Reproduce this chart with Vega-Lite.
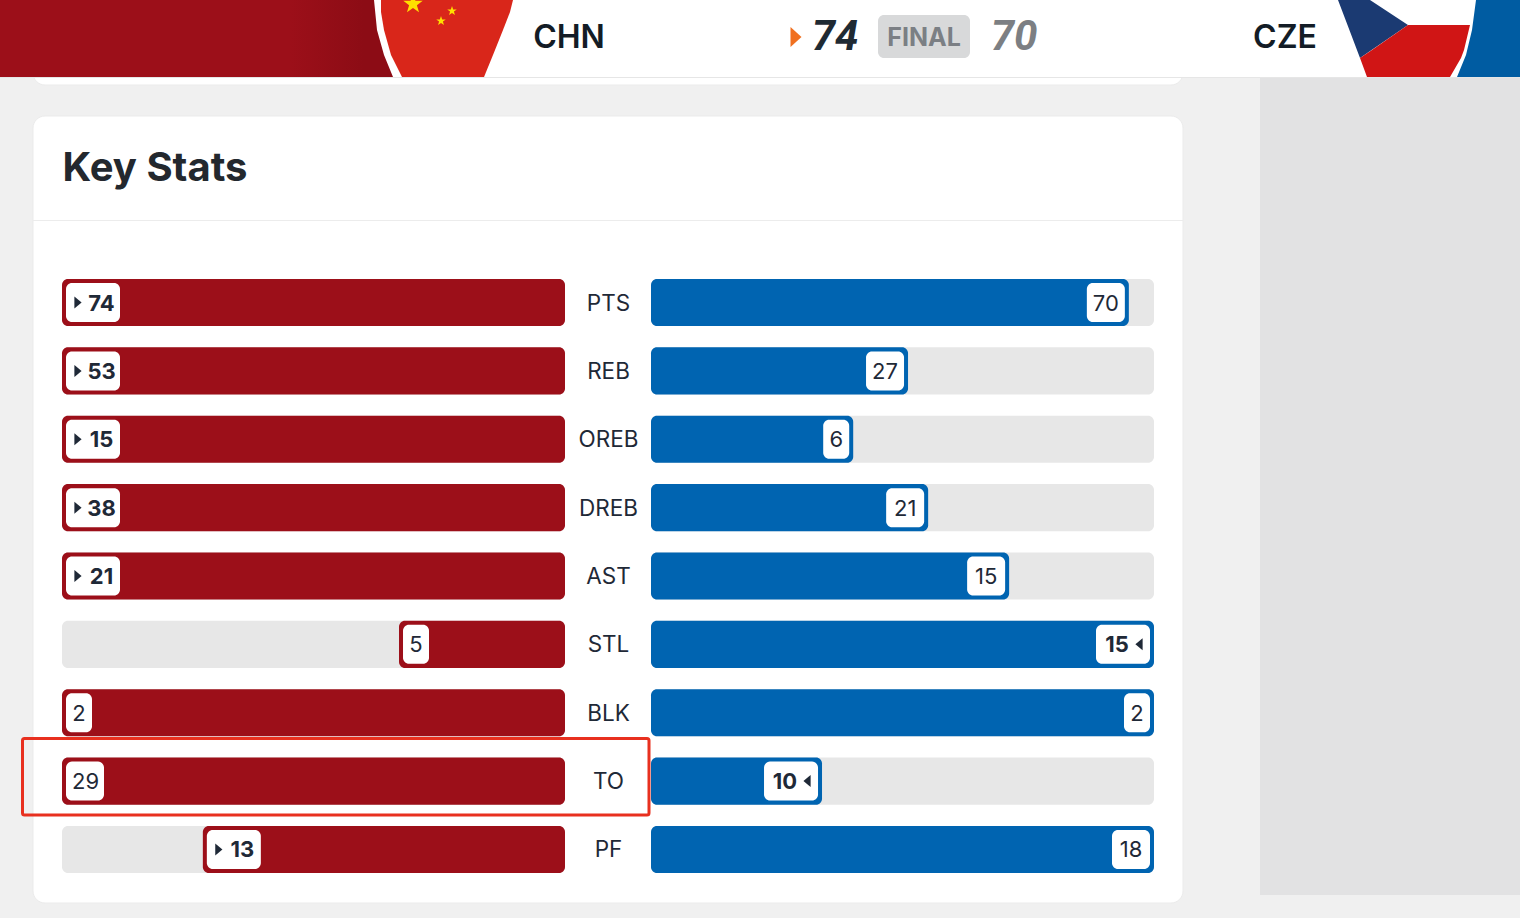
{"$schema":"https://vega.github.io/schema/vega-lite/v6.json","width":1520,"height":918,"padding":0,"autosize":{"type":"none"},"background":"#f0f0f0","config":{"view":{"stroke":null}},
"datasets":{
"stats":[
{"stat":"PTS","team":"CHN","value":74,"share":1,"lead":true},{"stat":"REB","team":"CHN","value":53,"share":1,"lead":true},{"stat":"OREB","team":"CHN","value":15,"share":1,"lead":true},{"stat":"DREB","team":"CHN","value":38,"share":1,"lead":true},{"stat":"AST","team":"CHN","value":21,"share":1,"lead":true},{"stat":"STL","team":"CHN","value":5,"share":0.33,"lead":false},{"stat":"BLK","team":"CHN","value":2,"share":1,"lead":false},{"stat":"TO","team":"CHN","value":29,"share":1,"lead":false},{"stat":"PF","team":"CHN","value":13,"share":0.72,"lead":true},
{"stat":"PTS","team":"CZE","value":70,"share":0.95,"lead":false},{"stat":"REB","team":"CZE","value":27,"share":0.511,"lead":false},{"stat":"OREB","team":"CZE","value":6,"share":0.402,"lead":false},{"stat":"DREB","team":"CZE","value":21,"share":0.551,"lead":false},{"stat":"AST","team":"CZE","value":15,"share":0.712,"lead":false},{"stat":"STL","team":"CZE","value":15,"share":1,"lead":true},{"stat":"BLK","team":"CZE","value":2,"share":1,"lead":false},{"stat":"TO","team":"CZE","value":10,"share":0.34,"lead":true},{"stat":"PF","team":"CZE","value":18,"share":1,"lead":false}],
"panels":[
{"part":"sidebar","x0":1260,"x1":1520,"y0":78,"y1":895},
{"part":"topcard","x0":33,"x1":1183,"y0":40,"y1":85},
{"part":"card","x0":33,"x1":1183,"y0":116,"y1":903},
{"part":"divider","x0":33,"x1":1183,"y0":220,"y1":221},
{"part":"header","x0":0,"x1":1520,"y0":0,"y1":77},
{"part":"headerline","x0":0,"x1":1520,"y0":77,"y1":78},
{"part":"band","x0":0,"x1":396,"y0":0,"y1":77},
{"part":"final","x0":878,"x1":970,"y0":15,"y1":58}],
"shade":[{"x0":290,"x1":396,"y0":0,"y1":77}],
"shapes":[
{"part":"cze band","y":0,"x0":1476,"x1":1520},{"part":"cze band","y":30,"x0":1472,"x1":1520},{"part":"cze band","y":55,"x0":1466,"x1":1520},{"part":"cze band","y":77,"x0":1457,"x1":1520},
{"part":"cze blue","y":0,"x0":1338,"x1":1370},{"part":"cze blue","y":25,"x0":1347.5,"x1":1408},{"part":"cze blue","y":58,"x0":1360,"x1":1360},
{"part":"cze red","y":25,"x0":1408,"x1":1470},{"part":"cze red","y":50,"x0":1372,"x1":1464},{"part":"cze red","y":58,"x0":1360,"x1":1461},{"part":"cze red","y":77,"x0":1367,"x1":1450},
{"part":"chn ring","y":0,"x0":374,"x1":512},{"part":"chn ring","y":30,"x0":377,"x1":500},{"part":"chn ring","y":55,"x0":384,"x1":491},{"part":"chn ring","y":77,"x0":393,"x1":484},
{"part":"chn flag","y":0,"x0":381,"x1":513},{"part":"chn flag","y":12,"x0":381,"x1":510},{"part":"chn flag","y":30,"x0":384,"x1":503},{"part":"chn flag","y":55,"x0":391,"x1":493},{"part":"chn flag","y":77,"x0":402,"x1":484}],
"stars":[{"kind":"big","x":413,"y":4},{"kind":"small","x":452,"y":11},{"kind":"small","x":441,"y":21}],
"labels":[
{"kind":"team","label":"CHN","x":569,"y":38},{"kind":"team","label":"CZE","x":1285,"y":38},
{"kind":"final","label":"FINAL","x":924,"y":38},
{"kind":"score","label":"74","x":835,"y":37},{"kind":"score","label":"70","x":1014,"y":37},
{"kind":"title","label":"Key Stats","x":155,"y":169}],
"marker":[{"x":796,"y":37}],
"highlight":[{"x0":22.5,"x1":649,"y0":738.5,"y1":815}]
},
"resolve":{"scale":{"x":"independent","y":"independent","color":"independent","size":"independent"}},
"layer":[
{"data":{"name":"panels"},"mark":{"type":"rect","strokeWidth":1,"stroke":{"expr":"datum.part=='card'||datum.part=='topcard'?'#ebebeb':null"},"cornerRadius":{"expr":"datum.part=='card'||datum.part=='topcard'?12:datum.part=='final'?6:0"}},
"encoding":{"x":{"field":"x0","type":"quantitative","scale":{"domain":[0,1520],"range":[0,1520]},"axis":null},"x2":{"field":"x1"},"y":{"field":"y0","type":"quantitative","scale":{"domain":[0,918],"range":[0,918]},"axis":null},"y2":{"field":"y1"},
"color":{"field":"part","type":"nominal","legend":null,"sort":null,"scale":{"domain":["sidebar","topcard","card","divider","header","headerline","band","final"],"range":["#e2e2e3","#ffffff","#ffffff","#ececec","#ffffff","#e6e6e6","#9c0f19","#d8d9da"]}}}},
{"data":{"name":"shade"},"mark":{"type":"rect","fill":{"gradient":"linear","x1":0,"x2":1,"y1":0,"y2":0,"stops":[{"offset":0,"color":"#9c0f19"},{"offset":0.7,"color":"#8c0c15"},{"offset":1,"color":"#8c0c15"}]}},
"encoding":{"x":{"field":"x0","type":"quantitative","scale":{"domain":[0,1520],"range":[0,1520]},"axis":null},"x2":{"field":"x1"},"y":{"field":"y0","type":"quantitative","scale":{"domain":[0,918],"range":[0,918]},"axis":null},"y2":{"field":"y1"}}},
{"data":{"name":"shapes"},"mark":{"type":"area","orient":"horizontal","opacity":1},
"encoding":{"y":{"field":"y","type":"quantitative","scale":{"domain":[0,918],"range":[0,918]},"axis":null},"x":{"field":"x0","type":"quantitative","scale":{"domain":[0,1520],"range":[0,1520]},"axis":null},"x2":{"field":"x1"},
"color":{"field":"part","type":"nominal","legend":null,"sort":null,"scale":{"domain":["cze band","cze blue","cze red","chn ring","chn flag"],"range":["#005ca2","#1b3a72","#d01515","#ffffff","#d9261a"]}}}},
{"data":{"name":"stars"},"transform":[{"filter":"datum.kind=='big'"}],"mark":{"type":"point","filled":true,"opacity":1,"fill":"#ffe000","stroke":null,"size":420,"shape":"M0,-1L0.235,-0.324L0.951,-0.309L0.38,0.124L0.588,0.809L0,0.4L-0.588,0.809L-0.38,0.124L-0.951,-0.309L-0.235,-0.324Z"},
"encoding":{"x":{"field":"x","type":"quantitative","scale":{"domain":[0,1520],"range":[0,1520]},"axis":null},"y":{"field":"y","type":"quantitative","scale":{"domain":[0,918],"range":[0,918]},"axis":null}}},
{"data":{"name":"stars"},"transform":[{"filter":"datum.kind=='small'"}],"mark":{"type":"point","filled":true,"opacity":1,"fill":"#ffe000","stroke":null,"size":100,"shape":"M0,-1L0.235,-0.324L0.951,-0.309L0.38,0.124L0.588,0.809L0,0.4L-0.588,0.809L-0.38,0.124L-0.951,-0.309L-0.235,-0.324Z"},
"encoding":{"x":{"field":"x","type":"quantitative","scale":{"domain":[0,1520],"range":[0,1520]},"axis":null},"y":{"field":"y","type":"quantitative","scale":{"domain":[0,918],"range":[0,918]},"axis":null}}},
{"data":{"name":"marker"},"mark":{"type":"point","filled":true,"opacity":1,"fill":"#f07020","stroke":null,"size":400,"shape":"M-0.55,-1L0.55,0L-0.55,1Z"},
"encoding":{"x":{"field":"x","type":"quantitative","scale":{"domain":[0,1520],"range":[0,1520]},"axis":null},"y":{"field":"y","type":"quantitative","scale":{"domain":[0,918],"range":[0,918]},"axis":null}}},
{"data":{"name":"labels"},"mark":{"type":"text","font":{"expr":"datum.kind=='score'?'Roboto':'Inter'"},"fontStyle":{"expr":"datum.kind=='score'?'italic':'normal'"},"fontWeight":{"expr":"datum.kind=='team'?600:700"},"fontSize":{"expr":"datum.kind=='team'?32:datum.kind=='title'?40:datum.kind=='final'?25:42"},"align":"center","baseline":"middle"},
"encoding":{"x":{"field":"x","type":"quantitative","scale":{"domain":[0,1520],"range":[0,1520]},"axis":null},"y":{"field":"y","type":"quantitative","scale":{"domain":[0,918],"range":[0,918]},"axis":null},"text":{"field":"label"},
"color":{"field":"label","type":"nominal","legend":null,"scale":{"domain":["CHN","CZE","FINAL","74","70","Key Stats"],"range":["#131c26","#131c26","#7b7f84","#1f2a33","#7c7f83","#23282e"]}}}},
{"data":{"name":"stats"},"transform":[{"filter":"datum.team=='CHN'"}],"mark":{"type":"rect","cornerRadius":6,"color":"#e7e7e7"},
"encoding":{"y":{"field":"stat","type":"nominal","sort":null,"axis":null,"scale":{"type":"band","domain":["PTS","REB","OREB","DREB","AST","STL","BLK","TO","PF"],"range":[279,873],"paddingInner":0.3126,"paddingOuter":0}},"x":{"datum":1,"type":"quantitative","scale":{"domain":[0,1],"range":[565,62]},"axis":null},"x2":{"datum":0}}},
{"data":{"name":"stats"},"transform":[{"filter":"datum.team=='CZE'"}],"mark":{"type":"rect","cornerRadius":6,"color":"#e7e7e7"},
"encoding":{"y":{"field":"stat","type":"nominal","sort":null,"axis":null,"scale":{"type":"band","domain":["PTS","REB","OREB","DREB","AST","STL","BLK","TO","PF"],"range":[279,873],"paddingInner":0.3126,"paddingOuter":0}},"x":{"datum":1,"type":"quantitative","scale":{"domain":[0,1],"range":[651,1154]},"axis":null},"x2":{"datum":0}}},
{"data":{"name":"stats"},"transform":[{"filter":"datum.team=='CHN'"}],"mark":{"type":"rect","cornerRadius":6,"color":"#9c0f19"},
"encoding":{"y":{"field":"stat","type":"nominal","sort":null,"axis":null,"scale":{"type":"band","domain":["PTS","REB","OREB","DREB","AST","STL","BLK","TO","PF"],"range":[279,873],"paddingInner":0.3126,"paddingOuter":0}},"x":{"field":"share","type":"quantitative","scale":{"domain":[0,1],"range":[565,62]},"axis":null},"x2":{"datum":0}}},
{"data":{"name":"stats"},"transform":[{"filter":"datum.team=='CZE'"}],"mark":{"type":"rect","cornerRadius":6,"color":"#0064b1"},
"encoding":{"y":{"field":"stat","type":"nominal","sort":null,"axis":null,"scale":{"type":"band","domain":["PTS","REB","OREB","DREB","AST","STL","BLK","TO","PF"],"range":[279,873],"paddingInner":0.3126,"paddingOuter":0}},"x":{"field":"share","type":"quantitative","scale":{"domain":[0,1],"range":[651,1154]},"axis":null},"x2":{"datum":0}}},
{"data":{"name":"stats"},"transform":[{"filter":"datum.team=='CHN'"}],"mark":{"type":"rect","cornerRadius":6,"color":"#ffffff","height":39,"width":{"expr":"datum.lead?54:(datum.value<10?26:38)"},"xOffset":{"expr":"4+(datum.lead?54:(datum.value<10?26:38))/2"}},
"encoding":{"y":{"field":"stat","type":"nominal","sort":null,"axis":null,"scale":{"type":"band","domain":["PTS","REB","OREB","DREB","AST","STL","BLK","TO","PF"],"range":[279,873],"paddingInner":0.3126,"paddingOuter":0}},"x":{"field":"share","type":"quantitative","scale":{"domain":[0,1],"range":[565,62]},"axis":null}}},
{"data":{"name":"stats"},"transform":[{"filter":"datum.team=='CZE'"}],"mark":{"type":"rect","cornerRadius":6,"color":"#ffffff","height":39,"width":{"expr":"datum.lead?54:(datum.value<10?26:38)"},"xOffset":{"expr":"-4-(datum.lead?54:(datum.value<10?26:38))/2"}},
"encoding":{"y":{"field":"stat","type":"nominal","sort":null,"axis":null,"scale":{"type":"band","domain":["PTS","REB","OREB","DREB","AST","STL","BLK","TO","PF"],"range":[279,873],"paddingInner":0.3126,"paddingOuter":0}},"x":{"field":"share","type":"quantitative","scale":{"domain":[0,1],"range":[651,1154]},"axis":null}}},
{"data":{"name":"stats"},"transform":[{"filter":"datum.team=='CHN'"}],"mark":{"type":"text","font":"Inter","fontSize":22,"dy":1,"color":"#1f2937","fontWeight":{"expr":"datum.lead?700:400"},"align":"center","baseline":"middle","xOffset":{"expr":"datum.lead?39.5:(datum.value<10?17:23.5)"}},
"encoding":{"y":{"field":"stat","type":"nominal","sort":null,"axis":null,"scale":{"type":"band","domain":["PTS","REB","OREB","DREB","AST","STL","BLK","TO","PF"],"range":[279,873],"paddingInner":0.3126,"paddingOuter":0}},"x":{"field":"share","type":"quantitative","scale":{"domain":[0,1],"range":[565,62]},"axis":null},"text":{"field":"value"}}},
{"data":{"name":"stats"},"transform":[{"filter":"datum.team=='CZE'"}],"mark":{"type":"text","font":"Inter","fontSize":22,"dy":1,"color":"#1f2937","fontWeight":{"expr":"datum.lead?700:400"},"align":"center","baseline":"middle","xOffset":{"expr":"datum.lead?-37:(datum.value<10?-17:-23)"}},
"encoding":{"y":{"field":"stat","type":"nominal","sort":null,"axis":null,"scale":{"type":"band","domain":["PTS","REB","OREB","DREB","AST","STL","BLK","TO","PF"],"range":[279,873],"paddingInner":0.3126,"paddingOuter":0}},"x":{"field":"share","type":"quantitative","scale":{"domain":[0,1],"range":[651,1154]},"axis":null},"text":{"field":"value"}}},
{"data":{"name":"stats"},"transform":[{"filter":"datum.team=='CHN' && datum.lead"}],"mark":{"type":"point","filled":true,"opacity":1,"fill":"#1f2937","stroke":null,"size":144,"shape":"M-0.6,-1L0.6,0L-0.6,1Z","xOffset":16},
"encoding":{"y":{"field":"stat","type":"nominal","sort":null,"axis":null,"scale":{"type":"band","domain":["PTS","REB","OREB","DREB","AST","STL","BLK","TO","PF"],"range":[279,873],"paddingInner":0.3126,"paddingOuter":0}},"x":{"field":"share","type":"quantitative","scale":{"domain":[0,1],"range":[565,62]},"axis":null}}},
{"data":{"name":"stats"},"transform":[{"filter":"datum.team=='CZE' && datum.lead"}],"mark":{"type":"point","filled":true,"opacity":1,"fill":"#1f2937","stroke":null,"size":144,"shape":"M0.6,-1L-0.6,0L0.6,1Z","xOffset":-15},
"encoding":{"y":{"field":"stat","type":"nominal","sort":null,"axis":null,"scale":{"type":"band","domain":["PTS","REB","OREB","DREB","AST","STL","BLK","TO","PF"],"range":[279,873],"paddingInner":0.3126,"paddingOuter":0}},"x":{"field":"share","type":"quantitative","scale":{"domain":[0,1],"range":[651,1154]},"axis":null}}},
{"data":{"name":"stats"},"transform":[{"filter":"datum.team=='CHN'"}],"mark":{"type":"text","font":"Inter","fontSize":22.5,"dy":1,"color":"#1f2937","align":"center","baseline":"middle"},
"encoding":{"y":{"field":"stat","type":"nominal","sort":null,"axis":null,"scale":{"type":"band","domain":["PTS","REB","OREB","DREB","AST","STL","BLK","TO","PF"],"range":[279,873],"paddingInner":0.3126,"paddingOuter":0}},"x":{"datum":0.5,"type":"quantitative","scale":{"domain":[0,1],"range":[565,652]},"axis":null},"text":{"field":"stat"}}},
{"data":{"name":"highlight"},"mark":{"type":"rect","fillOpacity":0,"stroke":"#e8301f","strokeWidth":3,"cornerRadius":2},
"encoding":{"x":{"field":"x0","type":"quantitative","scale":{"domain":[0,1520],"range":[0,1520]},"axis":null},"x2":{"field":"x1"},"y":{"field":"y0","type":"quantitative","scale":{"domain":[0,918],"range":[0,918]},"axis":null},"y2":{"field":"y1"}}}
]}
